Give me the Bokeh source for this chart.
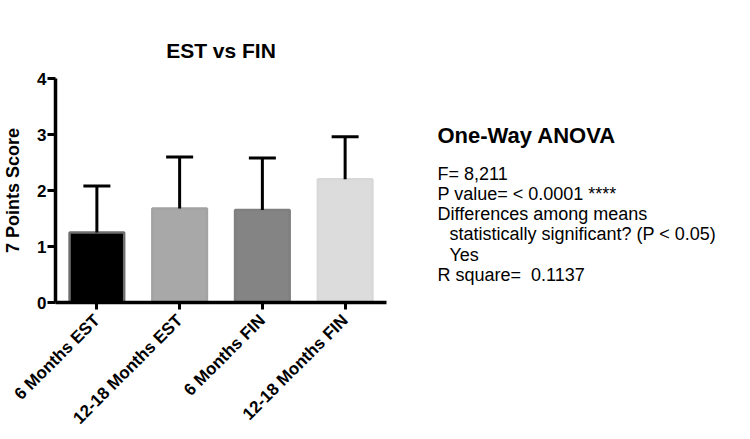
import math
from bokeh.plotting import figure
from bokeh.models import Range1d, FactorRange, FixedTicker, Whisker, TeeHead, ColumnDataSource
from bokeh.layouts import row
from bokeh.core.properties import value
from bokeh.embed import file_html
from bokeh.resources import INLINE

# ---- data ----
categories = ["6 Months EST", "12-18 Months EST", "6 Months FIN", "12-18 Months FIN"]
means = [1.25, 1.68, 1.65, 2.20]
upper_err = [2.08, 2.60, 2.58, 2.96]
bar_fill = ["#000000", "#a8a8a8", "#848484", "#dcdcdc"]
bar_edge = ["#6e6e6e", "#a3a3a3", "#7f7f7f", "#d8d8d8"]
y_ticks = [0, 1, 2, 3, 4]

title_text = "EST vs FIN"
y_label = "7 Points Score"

anova_title = "One-Way ANOVA"
anova_lines = [
    "F= 8,211",
    "P value= < 0.0001 ****",
    "Differences among means",
    "statistically significant? (P < 0.05)",
    "Yes",
    "R square=\u00a0 0.1137",
]
anova_indent = [0, 0, 0, 1, 1, 0]

FONT = "Liberation Sans"

H = 439
TOP, FRAME_H = 78, 224
BOTTOM = H - TOP - FRAME_H
W1, W2 = 408, 342

# ---- chart ----
src = ColumnDataSource(dict(cat=categories, mean=means, upper=upper_err,
                            fill=bar_fill, edge=bar_edge))

p = figure(width=W1, height=H, x_range=FactorRange(*categories, range_padding=0),
           y_range=Range1d(0, 4), toolbar_location=None, output_backend="svg",
           min_border_left=50, min_border_right=22, min_border_top=TOP, min_border_bottom=BOTTOM)
p.outline_line_color = None
p.grid.visible = False
p.background_fill_color = "white"

p.title.text = title_text
p.title.align = "center"
p.title.text_font = FONT
p.title.text_font_size = "21px"
p.title.text_font_style = "bold"
p.title.text_color = "black"
p.title.standoff = 34

p.vbar(x="cat", top="mean", bottom=0, width=0.66, source=src,
       fill_color="fill", line_color="edge", line_width=2.5)

wh = Whisker(base="cat", lower="mean", upper="upper", source=src, dimension="height",
             line_color="black", line_width=3, level="overlay",
             upper_head=TeeHead(size=27, line_width=3, line_color="black"), lower_head=None)
p.add_layout(wh)

for ax in (p.xaxis[0], p.yaxis[0]):
    ax.axis_line_width = 3.5
    ax.axis_line_color = "black"
    ax.major_tick_line_width = 3
    ax.major_tick_line_color = "black"
    ax.major_tick_in = 0
    ax.minor_tick_line_color = None
    ax.major_label_text_font = FONT
    ax.major_label_text_font_size = "17px"
    ax.major_label_text_font_style = "bold"
    ax.major_label_text_color = "black"

p.yaxis.ticker = FixedTicker(ticks=y_ticks)
p.yaxis.major_tick_out = 8
p.yaxis.major_label_standoff = 1
p.yaxis.axis_label = y_label
p.yaxis.axis_label_text_font = FONT
p.yaxis.axis_label_text_font_size = "18px"
p.yaxis.axis_label_text_font_style = "bold"
p.yaxis.axis_label_text_color = "black"
p.yaxis.axis_label_standoff = 11

p.xaxis.major_tick_out = 7
p.xaxis.major_label_standoff = 8
p.xaxis.major_label_orientation = math.pi / 4

# ---- ANOVA text panel (data coords = page pixels) ----
t = figure(width=W2, height=H, x_range=Range1d(W1, W1 + W2),
           y_range=Range1d(TOP + FRAME_H, TOP),
           toolbar_location=None, output_backend="svg", x_axis_type=None, y_axis_type=None,
           min_border_left=0, min_border_right=0, min_border_top=TOP, min_border_bottom=BOTTOM)
t.outline_line_color = None
t.grid.visible = False

t.text(x=[437], y=[135], text=[anova_title], text_font=value(FONT), text_font_size="22px",
       text_font_style="bold", text_baseline="middle", text_color="black")
xs = [437 + 12 * i for i in anova_indent]
ys = [173 + 20.3 * k for k in range(len(anova_lines))]
t.text(x=xs, y=ys, text=anova_lines, text_font=value(FONT), text_font_size="18px",
       text_baseline="middle", text_color="black")

layout = row(p, t)
open("out.html", "w").write(file_html(layout, INLINE))
